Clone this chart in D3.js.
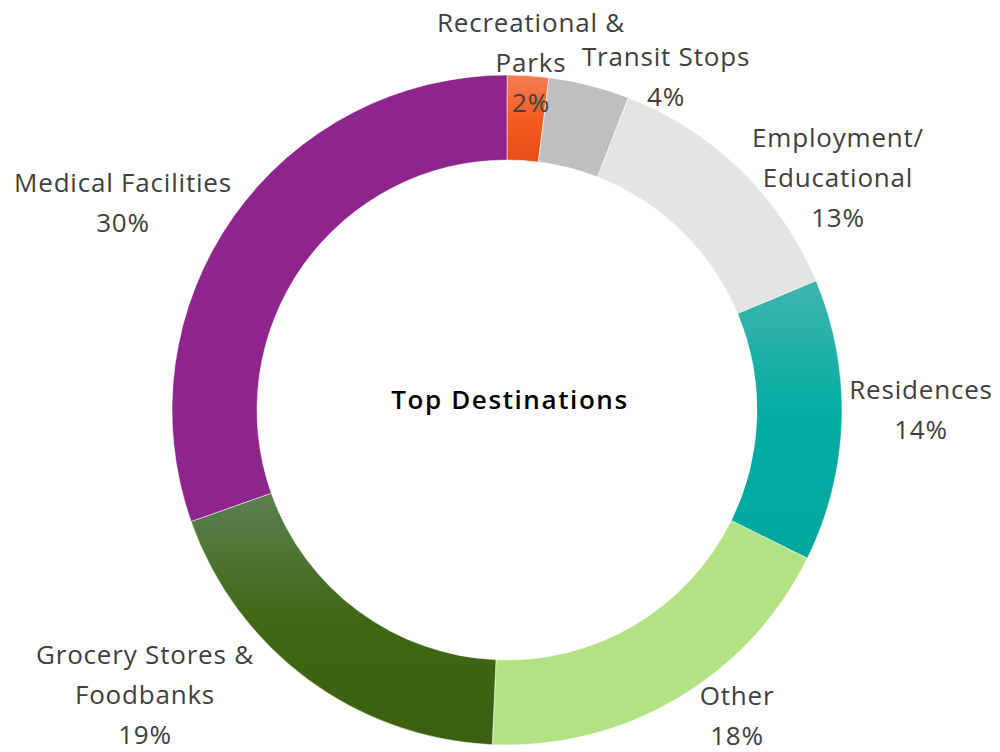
<!DOCTYPE html>
<html>
<head>
<meta charset="utf-8">
<script src="https://cdn.jsdelivr.net/npm/d3@7"></script>
<style>
  body { margin: 0; background: #fff; }
  svg { display: block; }
</style>
</head>
<body>
<div id="chart"></div>
<script>
const width = 1000;
const height = 752;

// data (shares in %)
const categories = ["Recreational & Parks", "Transit Stops", "Employment/ Educational", "Residences", "Other", "Grocery Stores & Foodbanks", "Medical Facilities"];
const values = [2.0, 3.9, 12.8, 13.6, 18.4, 18.9, 30.4];
// label lines as drawn in the chart
const labelLines = [
    ["Recreational &", "Parks"],
    ["Transit Stops"],
    ["Employment/", "Educational"],
    ["Residences"],
    ["Other"],
    ["Grocery Stores &", "Foodbanks"],
    ["Medical Facilities"]
];

// label placement (layout only): centre x, first baseline y
const labelPos = [[531, 32], [666, 66], [838, 147], [921, 399], [737, 705], [145, 664], [123, 192]];

const fills = ["url(#gradRec)", "#bfbfbf", "#e4e4e4", "url(#gradRes)", "#b3e285", "url(#gradGro)", "#8e258d"];

const cx = 507, cy = 410;
const outerR = 335, innerR = 250;

const svg = d3.select("#chart").append("svg")
    .attr("width", width)
    .attr("height", height);

const defs = svg.append("defs");
function addGrad(id, stops) {
    const g = defs.append("linearGradient")
        .attr("id", id)
        .attr("x1", 0).attr("y1", 0).attr("x2", 0).attr("y2", 1);
    stops.forEach(s => g.append("stop").attr("offset", s[0]).attr("stop-color", s[1]));
}
addGrad("gradRec", [[0, "#f47e57"], [0.5, "#f45b20"], [1, "#e64d17"]]);
addGrad("gradRes", [[0, "#40b4ae"], [0.5, "#00aca2"], [1, "#00a89c"]]);
addGrad("gradGro", [[0, "#5d8053"], [0.5, "#3e6814"], [1, "#3a5f0f"]]);

const pie = d3.pie().sort(null).value(d => d);
const arcs = pie(values);
const arc = d3.arc().innerRadius(innerR).outerRadius(outerR);

const g = svg.append("g").attr("transform", `translate(${cx},${cy})`);

g.selectAll("path")
    .data(arcs)
    .join("path")
    .attr("d", arc)
    .attr("fill", (d, i) => fills[i])
    .attr("stroke", "#fff")
    .attr("stroke-width", 0.5);

g.append("text")
    .attr("x", 3)
    .attr("y", -1)
    .attr("text-anchor", "middle")
    .attr("font-family", "Open Sans, sans-serif")
    .attr("font-weight", 600)
    .attr("font-size", 26)
    .attr("letter-spacing", 1.6)
    .attr("fill", "#000")
    .text("Top Destinations");

const labels = svg.append("g")
    .attr("font-family", "Open Sans, sans-serif")
    .attr("font-size", 26)
    .attr("letter-spacing", 0.8)
    .attr("fill", "#404040")
    .attr("text-anchor", "middle");

categories.forEach((c, i) => {
    const lines = labelLines[i].concat([Math.round(values[i]) + "%"]);
    const t = labels.append("text")
        .attr("x", labelPos[i][0])
        .attr("y", labelPos[i][1]);
    lines.forEach((l, j) => {
        t.append("tspan")
            .attr("x", labelPos[i][0])
            .attr("dy", j === 0 ? 0 : 40)
            .text(l);
    });
});
</script>
</body>
</html>
